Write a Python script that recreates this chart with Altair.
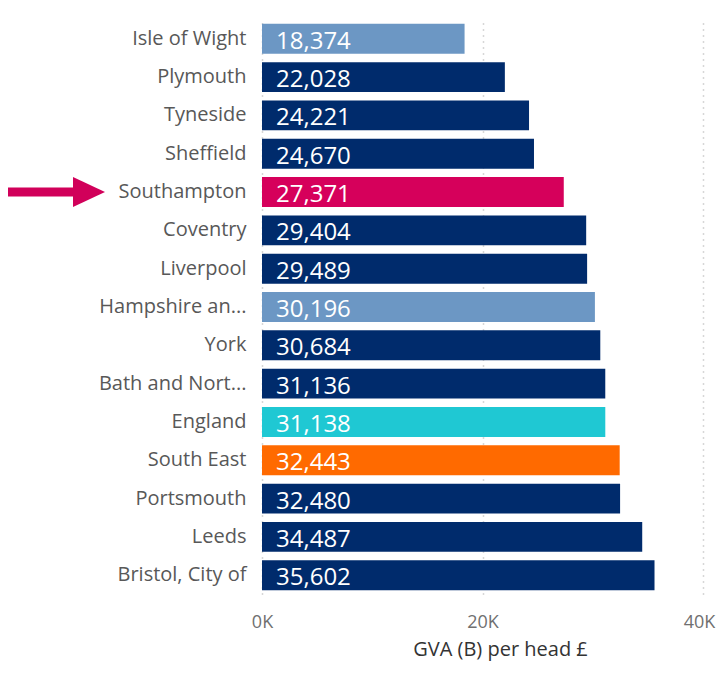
import altair as alt
import pandas as pd

categories = ["Isle of Wight", "Plymouth", "Tyneside", "Sheffield", "Southampton",
              "Coventry", "Liverpool", "Hampshire an...", "York", "Bath and Nort...",
              "England", "South East", "Portsmouth", "Leeds", "Bristol, City of"]
values = [18374, 22028, 24221, 24670, 27371, 29404, 29489, 30196, 30684, 31136,
          31138, 32443, 32480, 34487, 35602]
colors = ["#6C97C4", "#002B6C", "#002B6C", "#002B6C", "#D6005B",
          "#002B6C", "#002B6C", "#6C97C4", "#002B6C", "#002B6C",
          "#1FC8D3", "#FF6A00", "#002B6C", "#002B6C", "#002B6C"]
x_ticks = [0, 20000, 40000]
highlight = ["Southampton"]

df = pd.DataFrame({"area": categories, "gva": values, "color": colors})
df["label"] = [f"{v:,}" for v in values]
arrow_df = pd.DataFrame({"area": highlight})

font = "Open Sans"

y_enc = alt.Y("area:N", sort=categories,
              scale=alt.Scale(paddingInner=0.22, paddingOuter=0.1),
              axis=alt.Axis(title=None, ticks=False, domain=False, labelPadding=16,
                            labelFontSize=20, labelColor="#585858", labelFont=font,
                            labelLimit=220))

bars = alt.Chart(df).mark_bar().encode(
    y=y_enc,
    x=alt.X("gva:Q", scale=alt.Scale(domain=[0, 40000], nice=False),
            axis=alt.Axis(values=x_ticks, labelExpr="datum.value / 1000 + 'K'",
                          labelFlush=False,
                          labelOffset={"condition": {"test": "datum.value == 40000", "value": -4},
                                       "value": 0},
                          title="GVA (B) per head £", titleFontSize=20,
                          titleColor="#333333", titleFont=font, titleFontWeight="normal",
                          titlePadding=8, titleX=238, titleAnchor="middle",
                          labelFontSize=18, labelColor="#707070", labelFont=font,
                          labelPadding=19, ticks=False, domain=False,
                          grid=True, gridDash=[1, 5], gridColor="#b0b0b0", gridWidth=1.5)),
    color=alt.Color("color:N", scale=None),
)

texts = alt.Chart(df).mark_text(align="left", baseline="middle", dy=3, fontSize=24,
                                font=font, color="white").encode(
    y=alt.Y("area:N", sort=categories),
    x=alt.value(14),
    text="label:N",
)

shaft = alt.Chart(arrow_df).mark_rule(color="#D1005A", strokeWidth=9).encode(
    y=alt.Y("area:N", sort=categories),
    x=alt.value(-258),
    x2=alt.value(-186),
)

head = alt.Chart(arrow_df).mark_point(
    shape="M -1 -0.94 L 1 0 L -1 0.94 Z", size=1024, filled=True, opacity=1,
    color="#D1005A").encode(
    y=alt.Y("area:N", sort=categories),
    x=alt.value(-173),
)

chart = alt.layer(bars, texts, shaft, head).properties(
    width=441, height=574,
    autosize=alt.AutoSizeParams(type="none"),
    padding={"left": 254, "top": 12, "right": 15, "bottom": 72},
).configure_view(stroke=None)

chart.save("out.html", embed_options={"renderer": "svg", "actions": False})
